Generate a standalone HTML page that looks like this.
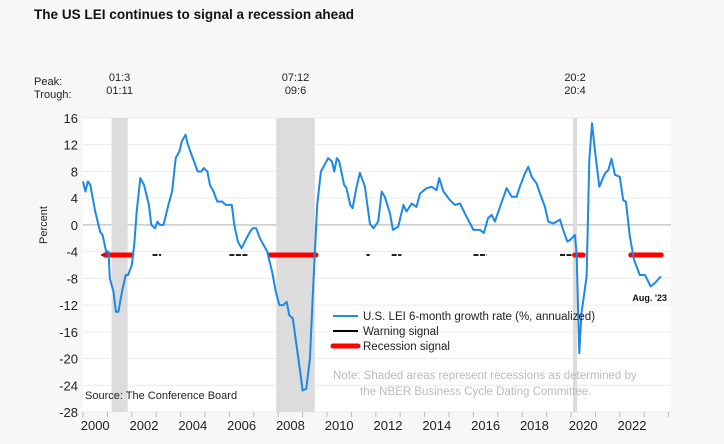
<!DOCTYPE html>
<html><head><meta charset="utf-8"><style>
body{margin:0;background:#f7f7f7;}
svg{display:block;font-family:"Liberation Sans",Arial,sans-serif;}
</style></head><body>
<svg id="c" width="724" height="444">
<rect width="724" height="444" fill="#f7f7f7"/>
<text x="34" y="19" font-size="13.5" font-weight="bold" fill="#111" textLength="320">The US LEI continues to signal a recession ahead</text>
<rect x="83" y="118" width="588" height="294" fill="#fff"/>
<g id="grid"></g><g id="shade"></g><g id="sig"></g><g id="series"></g><g id="axes"></g>
<text x="34" y="85" font-size="11" fill="#222">Peak:</text>
<text x="34" y="98" font-size="11" fill="#222">Trough:</text>
<text x="47" y="225" font-size="11" fill="#222" transform="rotate(-90 47 225)" text-anchor="middle">Percent</text>
<text x="85" y="399" font-size="11" fill="#222">Source: The Conference Board</text>
<g>
<line x1="333" y1="316" x2="358" y2="316" stroke="#1e88e5" stroke-width="2"/>
<text x="363" y="320" font-size="11.5" fill="#222">U.S. LEI 6-month growth rate (%, annualized)</text>
<line x1="333" y1="331" x2="358" y2="331" stroke="#000" stroke-width="2"/>
<text x="363" y="335" font-size="11.5" fill="#222">Warning signal</text>
<line x1="333" y1="346" x2="358" y2="346" stroke="#f00" stroke-width="5" stroke-linecap="round"/>
<text x="363" y="350" font-size="11.5" fill="#222">Recession signal</text>
</g>
<text x="333" y="379" font-size="11.5" fill="#bbb">Note: Shaded areas represent recessions as determined by</text>
<text x="360" y="395" font-size="11.5" fill="#bbb">the NBER Business Cycle Dating Committee.</text>
<text x="667" y="301" font-size="9" font-weight="bold" fill="#111" text-anchor="end">Aug. '23</text>
</svg>
<script>
const yTicks=[16,12,8,4,0,-4,-8,-12,-16,-20,-24,-28];
const xYears=[2000,2002,2004,2006,2008,2010,2012,2014,2016,2018,2020,2022];
const recessions=[[2001.17,2001.83],[2007.92,2009.5],[2020.08,2020.25]];
const recessionLabels=[["01:3","01:11"],["07:12","09:6"],["20:2","20:4"]];
const redSignals=[[2000.9,2002.0],[2007.65,2009.55],[2020.15,2020.5],[2022.45,2023.7]];
const warnSignals=[[2000.75,2000.9],[2002.85,2003.2],[2006.0,2006.75],[2011.62,2011.75],[2012.65,2013.05],[2016.0,2016.55],[2019.55,2020.15]];
const signalLevel=-4.5;
const leiDates=[2000.0,2000.1,2000.2,2000.3,2000.5,2000.7,2000.8,2000.95,2001.05,2001.1,2001.25,2001.35,2001.45,2001.6,2001.75,2001.85,2002.0,2002.1,2002.2,2002.35,2002.5,2002.7,2002.8,2002.95,2003.05,2003.15,2003.3,2003.5,2003.65,2003.8,2003.95,2004.05,2004.2,2004.3,2004.5,2004.7,2004.85,2004.95,2005.1,2005.2,2005.35,2005.5,2005.7,2005.85,2006.0,2006.1,2006.2,2006.35,2006.5,2006.7,2006.85,2006.95,2007.1,2007.25,2007.4,2007.55,2007.75,2007.9,2008.05,2008.2,2008.35,2008.45,2008.6,2008.75,2008.9,2009.0,2009.15,2009.3,2009.45,2009.6,2009.75,2009.9,2010.05,2010.2,2010.3,2010.4,2010.5,2010.7,2010.8,2010.95,2011.05,2011.2,2011.35,2011.55,2011.76,2011.9,2012.1,2012.24,2012.37,2012.58,2012.7,2012.92,2013.13,2013.26,2013.47,2013.67,2013.81,2014.08,2014.29,2014.49,2014.6,2014.77,2015.04,2015.24,2015.45,2015.72,2016.0,2016.27,2016.43,2016.6,2016.75,2016.88,2017.09,2017.36,2017.57,2017.77,2017.9,2018.11,2018.25,2018.39,2018.59,2018.73,2018.93,2019.07,2019.27,2019.55,2019.68,2019.85,2019.98,2020.16,2020.23,2020.34,2020.43,2020.64,2020.75,2020.86,2020.98,2021.16,2021.39,2021.53,2021.66,2021.8,2022.0,2022.14,2022.25,2022.41,2022.58,2022.82,2023.03,2023.13,2023.26,2023.44,2023.68];
const leiValues=[6.5,5,6.5,6,2,-1,-1.5,-4,-4,-8,-10,-13,-13,-10,-7.5,-7.5,-6,-3,2,7,6,3,0,-0.5,0.5,0,0,3,5,10,11,12.5,13.5,12,10,8,8,8.5,8,6,5,3.5,3.5,3,3,3,0,-2.5,-3.5,-2,-1,-0.5,-0.5,-2,-3,-4,-7,-10,-12,-12,-11.5,-13.5,-14,-18,-22,-24.8,-24.5,-20,-8,3,8,9,10,9.5,8,10,9.5,6,5.5,3,2.5,5.5,7.8,5.8,0.2,-0.5,0.5,5,4.2,1.7,-0.75,-0.25,3,2,3.2,2.7,4.7,5.5,5.7,5.2,7,5,3.7,3,3.2,1.2,-0.75,-0.75,-1.2,1,1.5,0.5,2.7,5.5,4.2,4.2,5.7,7.7,8.7,7.2,6.2,4.7,2.7,0.5,0.2,0.8,-0.75,-2.5,-2.2,-1.5,-4.3,-19.2,-13.2,-7.7,9.7,15.2,11.2,5.7,7.7,8.2,9.9,7.5,7.2,3.7,3.5,-1.7,-5.2,-7.5,-7.5,-8.2,-9.2,-8.7,-7.7];

const NS="http://www.w3.org/2000/svg";
const X0=83,YW=24.4,Y0=118,Y1=412,VMAX=16,VMIN=-28;
const xs=t=>X0+(t-2000)*YW;
const ys=v=>Y0+(VMAX-v)*(Y1-Y0)/(VMAX-VMIN);
function mk(tag,parent,attrs){const e=document.createElementNS(NS,tag);for(const k in attrs)e.setAttribute(k,attrs[k]);document.getElementById(parent).appendChild(e);return e;}

yTicks.forEach(v=>{
  const g=mk('line','grid',{x1:X0,x2:671,y1:ys(v),y2:ys(v),stroke:v===0?'#c8c8c8':'#ececec','stroke-width':v===0?1.5:1});
  
  
  const t=mk('text','axes',{x:78,y:ys(v)+5,'text-anchor':'end','font-size':13,fill:'#222'});
  t.textContent=v;
  
  
});
for(let y=2000;y<=2024;y++){
  const tk=mk('line','axes',{x1:xs(y),x2:xs(y),y1:412,y2:417,stroke:'#bbb'});
  
  
}
xYears.forEach(y=>{
  const t=mk('text','axes',{x:xs(y+0.5),y:430,'text-anchor':'middle','font-size':13,fill:'#222'});
  t.textContent=y;
  
  
});
recessions.forEach((r,i)=>{
  const s=mk('rect','shade',{x:xs(r[0]),y:Y0,width:Math.max(xs(r[1])-xs(r[0]),3),height:Y1-Y0,fill:'#dcdcdc'});
  
  
  const cx=(xs(r[0])+xs(r[1]))/2;
  const a=mk('text','axes',{x:cx,y:81,'text-anchor':'middle','font-size':11,fill:'#222'});
  a.textContent=recessionLabels[i][0];
  
  
  const b=mk('text','axes',{x:cx,y:94,'text-anchor':'middle','font-size':11,fill:'#222'});
  b.textContent=recessionLabels[i][1];
  
  
});
warnSignals.forEach(w=>{
  const l=mk('line','sig',{x1:xs(w[0]),x2:xs(w[1]),y1:ys(signalLevel),y2:ys(signalLevel),stroke:'#000','stroke-width':1.8,'stroke-dasharray':'5 1.5'});
  
  
});
redSignals.forEach(w=>{
  const l=mk('line','sig',{x1:xs(w[0]),x2:xs(w[1]),y1:ys(signalLevel),y2:ys(signalLevel),stroke:'#f00','stroke-width':5,'stroke-linecap':'round'});
  
  
});
const d=leiDates.map((t,i)=>(i?'L':'M')+xs(t).toFixed(1)+','+ys(leiValues[i]).toFixed(1)).join('');
const p=mk('path','series',{d:d,fill:'none',stroke:'#1e88e5','stroke-width':2,'stroke-linejoin':'round'});


</script>
</body></html>
